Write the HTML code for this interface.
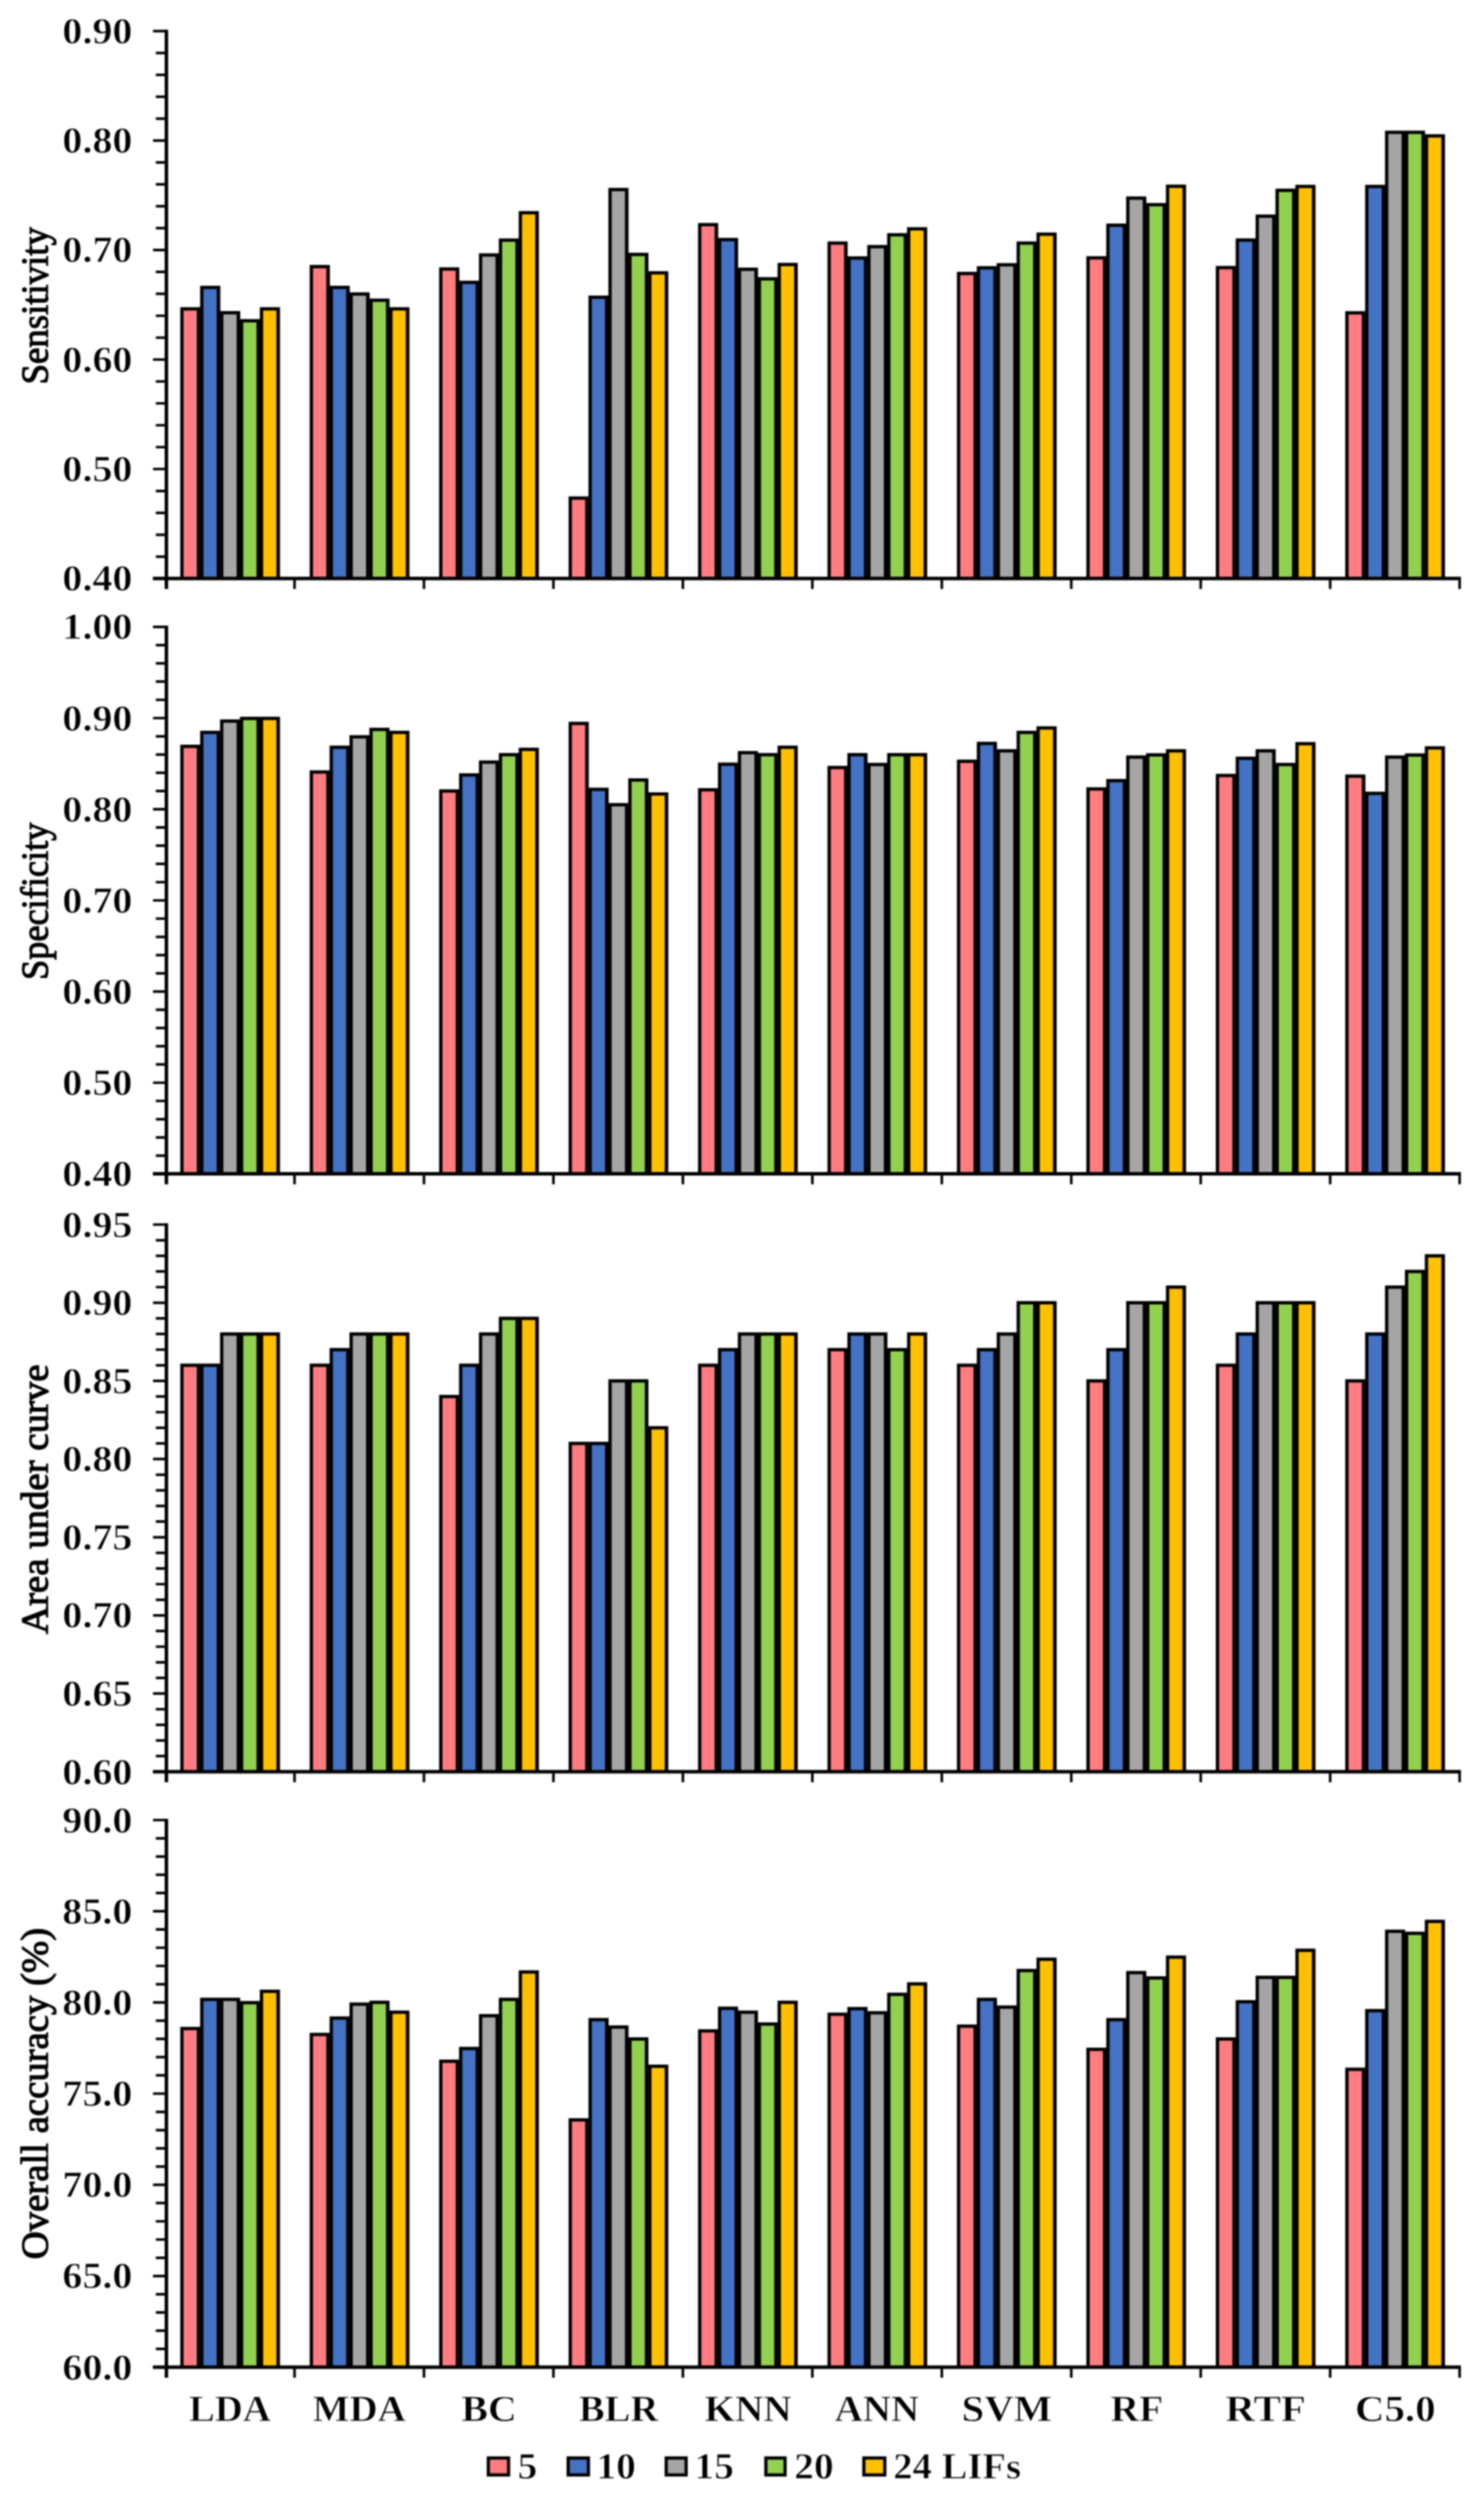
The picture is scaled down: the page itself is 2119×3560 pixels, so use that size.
<!DOCTYPE html>
<html lang="en">
<head>
<meta charset="utf-8">
<title>Classifier performance by number of LIFs</title>
<style>
html,body{margin:0;padding:0;background:#fff}
svg{display:block;filter:blur(0.8px)}
text{font-family:"Liberation Serif","Times New Roman",serif;fill:#000}
.b{font-weight:bold;stroke:#fff;stroke-width:0.9px}
.t{stroke:#000;stroke-width:1.5px;paint-order:stroke}
.ax{stroke:#000;stroke-width:5;fill:none}
.tk{stroke:#000;stroke-width:3.7;fill:none}
</style>
</head>
<body>
<svg width="2119" height="3560" viewBox="0 0 2119 3560">
<rect x="0" y="0" width="2119" height="3560" fill="#fff"/>
<g id="chart1">
<g class="bars">
<rect x="257.40" y="438.50" width="28.80" height="387.30"/><rect x="262.15" y="443.25" width="18.90" height="382.55" fill="#FF7C80"/>
<rect x="285.80" y="407.90" width="28.80" height="417.90"/><rect x="290.55" y="412.65" width="18.90" height="413.15" fill="#4472C4"/>
<rect x="314.20" y="444.00" width="28.80" height="381.80"/><rect x="318.95" y="448.75" width="18.90" height="377.05" fill="#A5A5A5"/>
<rect x="342.60" y="455.50" width="28.80" height="370.30"/><rect x="347.35" y="460.25" width="18.90" height="365.55" fill="#92D050"/>
<rect x="371.00" y="438.50" width="28.80" height="387.30"/><rect x="375.75" y="443.25" width="18.90" height="382.55" fill="#FFC000"/>
<rect x="442.23" y="378.20" width="28.80" height="447.60"/><rect x="446.98" y="382.95" width="18.90" height="442.85" fill="#FF7C80"/>
<rect x="470.63" y="407.90" width="28.80" height="417.90"/><rect x="475.38" y="412.65" width="18.90" height="413.15" fill="#4472C4"/>
<rect x="499.03" y="417.30" width="28.80" height="408.50"/><rect x="503.78" y="422.05" width="18.90" height="403.75" fill="#A5A5A5"/>
<rect x="527.43" y="426.20" width="28.80" height="399.60"/><rect x="532.18" y="430.95" width="18.90" height="394.85" fill="#92D050"/>
<rect x="555.83" y="438.50" width="28.80" height="387.30"/><rect x="560.58" y="443.25" width="18.90" height="382.55" fill="#FFC000"/>
<rect x="627.06" y="381.60" width="28.80" height="444.20"/><rect x="631.81" y="386.35" width="18.90" height="439.45" fill="#FF7C80"/>
<rect x="655.46" y="400.70" width="28.80" height="425.10"/><rect x="660.21" y="405.45" width="18.90" height="420.35" fill="#4472C4"/>
<rect x="683.86" y="361.60" width="28.80" height="464.20"/><rect x="688.61" y="366.35" width="18.90" height="459.45" fill="#A5A5A5"/>
<rect x="712.26" y="340.40" width="28.80" height="485.40"/><rect x="717.01" y="345.15" width="18.90" height="480.65" fill="#92D050"/>
<rect x="740.66" y="301.30" width="28.80" height="524.50"/><rect x="745.41" y="306.05" width="18.90" height="519.75" fill="#FFC000"/>
<rect x="811.89" y="708.60" width="28.80" height="117.20"/><rect x="816.64" y="713.35" width="18.90" height="112.45" fill="#FF7C80"/>
<rect x="840.29" y="421.90" width="28.80" height="403.90"/><rect x="845.04" y="426.65" width="18.90" height="399.15" fill="#4472C4"/>
<rect x="868.69" y="268.20" width="28.80" height="557.60"/><rect x="873.44" y="272.95" width="18.90" height="552.85" fill="#A5A5A5"/>
<rect x="897.09" y="360.80" width="28.80" height="465.00"/><rect x="901.84" y="365.55" width="18.90" height="460.25" fill="#92D050"/>
<rect x="925.49" y="387.10" width="28.80" height="438.70"/><rect x="930.24" y="391.85" width="18.90" height="433.95" fill="#FFC000"/>
<rect x="996.72" y="318.30" width="28.80" height="507.50"/><rect x="1001.47" y="323.05" width="18.90" height="502.75" fill="#FF7C80"/>
<rect x="1025.12" y="339.60" width="28.80" height="486.20"/><rect x="1029.87" y="344.35" width="18.90" height="481.45" fill="#4472C4"/>
<rect x="1053.52" y="382.00" width="28.80" height="443.80"/><rect x="1058.27" y="386.75" width="18.90" height="439.05" fill="#A5A5A5"/>
<rect x="1081.92" y="395.60" width="28.80" height="430.20"/><rect x="1086.67" y="400.35" width="18.90" height="425.45" fill="#92D050"/>
<rect x="1110.32" y="375.20" width="28.80" height="450.60"/><rect x="1115.07" y="379.95" width="18.90" height="445.85" fill="#FFC000"/>
<rect x="1181.55" y="344.60" width="28.80" height="481.20"/><rect x="1186.30" y="349.35" width="18.90" height="476.45" fill="#FF7C80"/>
<rect x="1209.95" y="365.90" width="28.80" height="459.90"/><rect x="1214.70" y="370.65" width="18.90" height="455.15" fill="#4472C4"/>
<rect x="1238.35" y="349.70" width="28.80" height="476.10"/><rect x="1243.10" y="354.45" width="18.90" height="471.35" fill="#A5A5A5"/>
<rect x="1266.75" y="332.80" width="28.80" height="493.00"/><rect x="1271.50" y="337.55" width="18.90" height="488.25" fill="#92D050"/>
<rect x="1295.15" y="324.30" width="28.80" height="501.50"/><rect x="1299.90" y="329.05" width="18.90" height="496.75" fill="#FFC000"/>
<rect x="1366.38" y="388.00" width="28.80" height="437.80"/><rect x="1371.13" y="392.75" width="18.90" height="433.05" fill="#FF7C80"/>
<rect x="1394.78" y="379.90" width="28.80" height="445.90"/><rect x="1399.53" y="384.65" width="18.90" height="441.15" fill="#4472C4"/>
<rect x="1423.18" y="375.60" width="28.80" height="450.20"/><rect x="1427.93" y="380.35" width="18.90" height="445.45" fill="#A5A5A5"/>
<rect x="1451.58" y="344.60" width="28.80" height="481.20"/><rect x="1456.33" y="349.35" width="18.90" height="476.45" fill="#92D050"/>
<rect x="1479.98" y="331.90" width="28.80" height="493.90"/><rect x="1484.73" y="336.65" width="18.90" height="489.15" fill="#FFC000"/>
<rect x="1551.21" y="365.70" width="28.80" height="460.10"/><rect x="1555.96" y="370.45" width="18.90" height="455.35" fill="#FF7C80"/>
<rect x="1579.61" y="319.10" width="28.80" height="506.70"/><rect x="1584.36" y="323.85" width="18.90" height="501.95" fill="#4472C4"/>
<rect x="1608.01" y="280.40" width="28.80" height="545.40"/><rect x="1612.76" y="285.15" width="18.90" height="540.65" fill="#A5A5A5"/>
<rect x="1636.41" y="289.80" width="28.80" height="536.00"/><rect x="1641.16" y="294.55" width="18.90" height="531.25" fill="#92D050"/>
<rect x="1664.81" y="263.50" width="28.80" height="562.30"/><rect x="1669.56" y="268.25" width="18.90" height="557.55" fill="#FFC000"/>
<rect x="1736.04" y="379.60" width="28.80" height="446.20"/><rect x="1740.79" y="384.35" width="18.90" height="441.45" fill="#FF7C80"/>
<rect x="1764.44" y="340.30" width="28.80" height="485.50"/><rect x="1769.19" y="345.05" width="18.90" height="480.75" fill="#4472C4"/>
<rect x="1792.84" y="306.20" width="28.80" height="519.60"/><rect x="1797.59" y="310.95" width="18.90" height="514.85" fill="#A5A5A5"/>
<rect x="1821.24" y="269.30" width="28.80" height="556.50"/><rect x="1825.99" y="274.05" width="18.90" height="551.75" fill="#92D050"/>
<rect x="1849.64" y="263.80" width="28.80" height="562.00"/><rect x="1854.39" y="268.55" width="18.90" height="557.25" fill="#FFC000"/>
<rect x="1920.87" y="444.20" width="28.80" height="381.60"/><rect x="1925.62" y="448.95" width="18.90" height="376.85" fill="#FF7C80"/>
<rect x="1949.27" y="263.80" width="28.80" height="562.00"/><rect x="1954.02" y="268.55" width="18.90" height="557.25" fill="#4472C4"/>
<rect x="1977.67" y="186.50" width="28.80" height="639.30"/><rect x="1982.42" y="191.25" width="18.90" height="634.55" fill="#A5A5A5"/>
<rect x="2006.07" y="186.50" width="28.80" height="639.30"/><rect x="2010.82" y="191.25" width="18.90" height="634.55" fill="#92D050"/>
<rect x="2034.47" y="191.60" width="28.80" height="634.20"/><rect x="2039.22" y="196.35" width="18.90" height="629.45" fill="#FFC000"/>
</g>
<path class="tk" d="M218.5 44.40H237.60M218.5 200.68H237.60M218.5 356.96H237.60M218.5 513.24H237.60M218.5 669.52H237.60M218.5 825.80H237.60"/>
<path class="tk" d="M222.5 75.66H237.60M222.5 106.91H237.60M222.5 138.17H237.60M222.5 169.42H237.60M222.5 231.94H237.60M222.5 263.19H237.60M222.5 294.45H237.60M222.5 325.70H237.60M222.5 388.22H237.60M222.5 419.47H237.60M222.5 450.73H237.60M222.5 481.98H237.60M222.5 544.50H237.60M222.5 575.75H237.60M222.5 607.01H237.60M222.5 638.26H237.60M222.5 700.78H237.60M222.5 732.03H237.60M222.5 763.29H237.60M222.5 794.54H237.60"/>
<path class="tk" d="M420.55 825.80V840.80M605.40 825.80V840.80M790.25 825.80V840.80M975.10 825.80V840.80M1159.95 825.80V840.80M1344.80 825.80V840.80M1529.65 825.80V840.80M1714.50 825.80V840.80M1899.35 825.80V840.80M2084.20 825.80V840.80"/>
<path class="ax" d="M237.60 42.55V840.80"/>
<path class="ax" d="M218.5 825.80H2086.05"/>
<text class="b" font-size="52" text-anchor="end" transform="translate(189.00 61.90) scale(1.098 1)">0.90</text>
<text class="b" font-size="52" text-anchor="end" transform="translate(189.00 218.18) scale(1.098 1)">0.80</text>
<text class="b" font-size="52" text-anchor="end" transform="translate(189.00 374.46) scale(1.098 1)">0.70</text>
<text class="b" font-size="52" text-anchor="end" transform="translate(189.00 530.74) scale(1.098 1)">0.60</text>
<text class="b" font-size="52" text-anchor="end" transform="translate(189.00 687.02) scale(1.098 1)">0.50</text>
<text class="b" font-size="52" text-anchor="end" transform="translate(189.00 843.30) scale(1.098 1)">0.40</text>
<text class="t" font-size="54" text-anchor="middle" transform="translate(68.30 436.50) rotate(-90) scale(0.972 1)">Sensitivity</text>
</g>
<g id="chart2">
<g class="bars">
<rect x="257.40" y="1063.00" width="28.80" height="612.60"/><rect x="262.15" y="1067.75" width="18.90" height="607.85" fill="#FF7C80"/>
<rect x="285.80" y="1043.10" width="28.80" height="632.50"/><rect x="290.55" y="1047.85" width="18.90" height="627.75" fill="#4472C4"/>
<rect x="314.20" y="1026.90" width="28.80" height="648.70"/><rect x="318.95" y="1031.65" width="18.90" height="643.95" fill="#A5A5A5"/>
<rect x="342.60" y="1023.10" width="28.80" height="652.50"/><rect x="347.35" y="1027.85" width="18.90" height="647.75" fill="#92D050"/>
<rect x="371.00" y="1023.10" width="28.80" height="652.50"/><rect x="375.75" y="1027.85" width="18.90" height="647.75" fill="#FFC000"/>
<rect x="442.23" y="1099.60" width="28.80" height="576.00"/><rect x="446.98" y="1104.35" width="18.90" height="571.25" fill="#FF7C80"/>
<rect x="470.63" y="1064.30" width="28.80" height="611.30"/><rect x="475.38" y="1069.05" width="18.90" height="606.55" fill="#4472C4"/>
<rect x="499.03" y="1049.40" width="28.80" height="626.20"/><rect x="503.78" y="1054.15" width="18.90" height="621.45" fill="#A5A5A5"/>
<rect x="527.43" y="1038.80" width="28.80" height="636.80"/><rect x="532.18" y="1043.55" width="18.90" height="632.05" fill="#92D050"/>
<rect x="555.83" y="1043.10" width="28.80" height="632.50"/><rect x="560.58" y="1047.85" width="18.90" height="627.75" fill="#FFC000"/>
<rect x="627.06" y="1126.70" width="28.80" height="548.90"/><rect x="631.81" y="1131.45" width="18.90" height="544.15" fill="#FF7C80"/>
<rect x="655.46" y="1103.80" width="28.80" height="571.80"/><rect x="660.21" y="1108.55" width="18.90" height="567.05" fill="#4472C4"/>
<rect x="683.86" y="1085.50" width="28.80" height="590.10"/><rect x="688.61" y="1090.25" width="18.90" height="585.35" fill="#A5A5A5"/>
<rect x="712.26" y="1074.90" width="28.80" height="600.70"/><rect x="717.01" y="1079.65" width="18.90" height="595.95" fill="#92D050"/>
<rect x="740.66" y="1067.30" width="28.80" height="608.30"/><rect x="745.41" y="1072.05" width="18.90" height="603.55" fill="#FFC000"/>
<rect x="811.89" y="1030.30" width="28.80" height="645.30"/><rect x="816.64" y="1035.05" width="18.90" height="640.55" fill="#FF7C80"/>
<rect x="840.29" y="1124.40" width="28.80" height="551.20"/><rect x="845.04" y="1129.15" width="18.90" height="546.45" fill="#4472C4"/>
<rect x="868.69" y="1146.30" width="28.80" height="529.30"/><rect x="873.44" y="1151.05" width="18.90" height="524.55" fill="#A5A5A5"/>
<rect x="897.09" y="1111.00" width="28.80" height="564.60"/><rect x="901.84" y="1115.75" width="18.90" height="559.85" fill="#92D050"/>
<rect x="925.49" y="1131.00" width="28.80" height="544.60"/><rect x="930.24" y="1135.75" width="18.90" height="539.85" fill="#FFC000"/>
<rect x="996.72" y="1125.00" width="28.80" height="550.60"/><rect x="1001.47" y="1129.75" width="18.90" height="545.85" fill="#FF7C80"/>
<rect x="1025.12" y="1088.50" width="28.80" height="587.10"/><rect x="1029.87" y="1093.25" width="18.90" height="582.35" fill="#4472C4"/>
<rect x="1053.52" y="1072.00" width="28.80" height="603.60"/><rect x="1058.27" y="1076.75" width="18.90" height="598.85" fill="#A5A5A5"/>
<rect x="1081.92" y="1074.90" width="28.80" height="600.70"/><rect x="1086.67" y="1079.65" width="18.90" height="595.95" fill="#92D050"/>
<rect x="1110.32" y="1064.30" width="28.80" height="611.30"/><rect x="1115.07" y="1069.05" width="18.90" height="606.55" fill="#FFC000"/>
<rect x="1181.55" y="1093.20" width="28.80" height="582.40"/><rect x="1186.30" y="1097.95" width="18.90" height="577.65" fill="#FF7C80"/>
<rect x="1209.95" y="1074.90" width="28.80" height="600.70"/><rect x="1214.70" y="1079.65" width="18.90" height="595.95" fill="#4472C4"/>
<rect x="1238.35" y="1088.90" width="28.80" height="586.70"/><rect x="1243.10" y="1093.65" width="18.90" height="581.95" fill="#A5A5A5"/>
<rect x="1266.75" y="1074.90" width="28.80" height="600.70"/><rect x="1271.50" y="1079.65" width="18.90" height="595.95" fill="#92D050"/>
<rect x="1295.15" y="1074.90" width="28.80" height="600.70"/><rect x="1299.90" y="1079.65" width="18.90" height="595.95" fill="#FFC000"/>
<rect x="1366.38" y="1084.30" width="28.80" height="591.30"/><rect x="1371.13" y="1089.05" width="18.90" height="586.55" fill="#FF7C80"/>
<rect x="1394.78" y="1058.80" width="28.80" height="616.80"/><rect x="1399.53" y="1063.55" width="18.90" height="612.05" fill="#4472C4"/>
<rect x="1423.18" y="1069.40" width="28.80" height="606.20"/><rect x="1427.93" y="1074.15" width="18.90" height="601.45" fill="#A5A5A5"/>
<rect x="1451.58" y="1043.10" width="28.80" height="632.50"/><rect x="1456.33" y="1047.85" width="18.90" height="627.75" fill="#92D050"/>
<rect x="1479.98" y="1036.70" width="28.80" height="638.90"/><rect x="1484.73" y="1041.45" width="18.90" height="634.15" fill="#FFC000"/>
<rect x="1551.21" y="1123.80" width="28.80" height="551.80"/><rect x="1555.96" y="1128.55" width="18.90" height="547.05" fill="#FF7C80"/>
<rect x="1579.61" y="1111.90" width="28.80" height="563.70"/><rect x="1584.36" y="1116.65" width="18.90" height="558.95" fill="#4472C4"/>
<rect x="1608.01" y="1078.30" width="28.80" height="597.30"/><rect x="1612.76" y="1083.05" width="18.90" height="592.55" fill="#A5A5A5"/>
<rect x="1636.41" y="1075.20" width="28.80" height="600.40"/><rect x="1641.16" y="1079.95" width="18.90" height="595.65" fill="#92D050"/>
<rect x="1664.81" y="1069.40" width="28.80" height="606.20"/><rect x="1669.56" y="1074.15" width="18.90" height="601.45" fill="#FFC000"/>
<rect x="1736.04" y="1104.60" width="28.80" height="571.00"/><rect x="1740.79" y="1109.35" width="18.90" height="566.25" fill="#FF7C80"/>
<rect x="1764.44" y="1080.00" width="28.80" height="595.60"/><rect x="1769.19" y="1084.75" width="18.90" height="590.85" fill="#4472C4"/>
<rect x="1792.84" y="1069.40" width="28.80" height="606.20"/><rect x="1797.59" y="1074.15" width="18.90" height="601.45" fill="#A5A5A5"/>
<rect x="1821.24" y="1088.90" width="28.80" height="586.70"/><rect x="1825.99" y="1093.65" width="18.90" height="581.95" fill="#92D050"/>
<rect x="1849.64" y="1059.20" width="28.80" height="616.40"/><rect x="1854.39" y="1063.95" width="18.90" height="611.65" fill="#FFC000"/>
<rect x="1920.87" y="1105.50" width="28.80" height="570.10"/><rect x="1925.62" y="1110.25" width="18.90" height="565.35" fill="#FF7C80"/>
<rect x="1949.27" y="1130.10" width="28.80" height="545.50"/><rect x="1954.02" y="1134.85" width="18.90" height="540.75" fill="#4472C4"/>
<rect x="1977.67" y="1078.30" width="28.80" height="597.30"/><rect x="1982.42" y="1083.05" width="18.90" height="592.55" fill="#A5A5A5"/>
<rect x="2006.07" y="1075.40" width="28.80" height="600.20"/><rect x="2010.82" y="1080.15" width="18.90" height="595.45" fill="#92D050"/>
<rect x="2034.47" y="1065.20" width="28.80" height="610.40"/><rect x="2039.22" y="1069.95" width="18.90" height="605.65" fill="#FFC000"/>
</g>
<path class="tk" d="M218.5 894.90H237.60M218.5 1025.02H237.60M218.5 1155.13H237.60M218.5 1285.25H237.60M218.5 1415.37H237.60M218.5 1545.48H237.60M218.5 1675.60H237.60"/>
<path class="tk" d="M222.5 920.92H237.60M222.5 946.95H237.60M222.5 972.97H237.60M222.5 998.99H237.60M222.5 1051.04H237.60M222.5 1077.06H237.60M222.5 1103.09H237.60M222.5 1129.11H237.60M222.5 1181.16H237.60M222.5 1207.18H237.60M222.5 1233.20H237.60M222.5 1259.23H237.60M222.5 1311.27H237.60M222.5 1337.30H237.60M222.5 1363.32H237.60M222.5 1389.34H237.60M222.5 1441.39H237.60M222.5 1467.41H237.60M222.5 1493.44H237.60M222.5 1519.46H237.60M222.5 1571.51H237.60M222.5 1597.53H237.60M222.5 1623.55H237.60M222.5 1649.58H237.60"/>
<path class="tk" d="M420.55 1675.60V1690.60M605.40 1675.60V1690.60M790.25 1675.60V1690.60M975.10 1675.60V1690.60M1159.95 1675.60V1690.60M1344.80 1675.60V1690.60M1529.65 1675.60V1690.60M1714.50 1675.60V1690.60M1899.35 1675.60V1690.60M2084.20 1675.60V1690.60"/>
<path class="ax" d="M237.60 893.05V1690.60"/>
<path class="ax" d="M218.5 1675.60H2086.05"/>
<text class="b" font-size="52" text-anchor="end" transform="translate(189.00 912.40) scale(1.098 1)">1.00</text>
<text class="b" font-size="52" text-anchor="end" transform="translate(189.00 1042.52) scale(1.098 1)">0.90</text>
<text class="b" font-size="52" text-anchor="end" transform="translate(189.00 1172.63) scale(1.098 1)">0.80</text>
<text class="b" font-size="52" text-anchor="end" transform="translate(189.00 1302.75) scale(1.098 1)">0.70</text>
<text class="b" font-size="52" text-anchor="end" transform="translate(189.00 1432.87) scale(1.098 1)">0.60</text>
<text class="b" font-size="52" text-anchor="end" transform="translate(189.00 1562.98) scale(1.098 1)">0.50</text>
<text class="b" font-size="52" text-anchor="end" transform="translate(189.00 1693.10) scale(1.098 1)">0.40</text>
<text class="t" font-size="54" text-anchor="middle" transform="translate(68.30 1286.50) rotate(-90) scale(0.96 1)">Specificity</text>
</g>
<g id="chart3">
<g class="bars">
<rect x="257.40" y="1946.45" width="28.80" height="582.55"/><rect x="262.15" y="1951.20" width="18.90" height="577.80" fill="#FF7C80"/>
<rect x="285.80" y="1946.45" width="28.80" height="582.55"/><rect x="290.55" y="1951.20" width="18.90" height="577.80" fill="#4472C4"/>
<rect x="314.20" y="1901.82" width="28.80" height="627.18"/><rect x="318.95" y="1906.57" width="18.90" height="622.43" fill="#A5A5A5"/>
<rect x="342.60" y="1901.82" width="28.80" height="627.18"/><rect x="347.35" y="1906.57" width="18.90" height="622.43" fill="#92D050"/>
<rect x="371.00" y="1901.82" width="28.80" height="627.18"/><rect x="375.75" y="1906.57" width="18.90" height="622.43" fill="#FFC000"/>
<rect x="442.23" y="1946.45" width="28.80" height="582.55"/><rect x="446.98" y="1951.20" width="18.90" height="577.80" fill="#FF7C80"/>
<rect x="470.63" y="1924.14" width="28.80" height="604.86"/><rect x="475.38" y="1928.89" width="18.90" height="600.11" fill="#4472C4"/>
<rect x="499.03" y="1901.82" width="28.80" height="627.18"/><rect x="503.78" y="1906.57" width="18.90" height="622.43" fill="#A5A5A5"/>
<rect x="527.43" y="1901.82" width="28.80" height="627.18"/><rect x="532.18" y="1906.57" width="18.90" height="622.43" fill="#92D050"/>
<rect x="555.83" y="1901.82" width="28.80" height="627.18"/><rect x="560.58" y="1906.57" width="18.90" height="622.43" fill="#FFC000"/>
<rect x="627.06" y="1991.08" width="28.80" height="537.92"/><rect x="631.81" y="1995.83" width="18.90" height="533.17" fill="#FF7C80"/>
<rect x="655.46" y="1946.45" width="28.80" height="582.55"/><rect x="660.21" y="1951.20" width="18.90" height="577.80" fill="#4472C4"/>
<rect x="683.86" y="1901.82" width="28.80" height="627.18"/><rect x="688.61" y="1906.57" width="18.90" height="622.43" fill="#A5A5A5"/>
<rect x="712.26" y="1879.51" width="28.80" height="649.49"/><rect x="717.01" y="1884.26" width="18.90" height="644.74" fill="#92D050"/>
<rect x="740.66" y="1879.51" width="28.80" height="649.49"/><rect x="745.41" y="1884.26" width="18.90" height="644.74" fill="#FFC000"/>
<rect x="811.89" y="2058.02" width="28.80" height="470.98"/><rect x="816.64" y="2062.77" width="18.90" height="466.23" fill="#FF7C80"/>
<rect x="840.29" y="2058.02" width="28.80" height="470.98"/><rect x="845.04" y="2062.77" width="18.90" height="466.23" fill="#4472C4"/>
<rect x="868.69" y="1968.77" width="28.80" height="560.23"/><rect x="873.44" y="1973.52" width="18.90" height="555.48" fill="#A5A5A5"/>
<rect x="897.09" y="1968.77" width="28.80" height="560.23"/><rect x="901.84" y="1973.52" width="18.90" height="555.48" fill="#92D050"/>
<rect x="925.49" y="2035.71" width="28.80" height="493.29"/><rect x="930.24" y="2040.46" width="18.90" height="488.54" fill="#FFC000"/>
<rect x="996.72" y="1946.45" width="28.80" height="582.55"/><rect x="1001.47" y="1951.20" width="18.90" height="577.80" fill="#FF7C80"/>
<rect x="1025.12" y="1924.14" width="28.80" height="604.86"/><rect x="1029.87" y="1928.89" width="18.90" height="600.11" fill="#4472C4"/>
<rect x="1053.52" y="1901.82" width="28.80" height="627.18"/><rect x="1058.27" y="1906.57" width="18.90" height="622.43" fill="#A5A5A5"/>
<rect x="1081.92" y="1901.82" width="28.80" height="627.18"/><rect x="1086.67" y="1906.57" width="18.90" height="622.43" fill="#92D050"/>
<rect x="1110.32" y="1901.82" width="28.80" height="627.18"/><rect x="1115.07" y="1906.57" width="18.90" height="622.43" fill="#FFC000"/>
<rect x="1181.55" y="1924.14" width="28.80" height="604.86"/><rect x="1186.30" y="1928.89" width="18.90" height="600.11" fill="#FF7C80"/>
<rect x="1209.95" y="1901.82" width="28.80" height="627.18"/><rect x="1214.70" y="1906.57" width="18.90" height="622.43" fill="#4472C4"/>
<rect x="1238.35" y="1901.82" width="28.80" height="627.18"/><rect x="1243.10" y="1906.57" width="18.90" height="622.43" fill="#A5A5A5"/>
<rect x="1266.75" y="1924.14" width="28.80" height="604.86"/><rect x="1271.50" y="1928.89" width="18.90" height="600.11" fill="#92D050"/>
<rect x="1295.15" y="1901.82" width="28.80" height="627.18"/><rect x="1299.90" y="1906.57" width="18.90" height="622.43" fill="#FFC000"/>
<rect x="1366.38" y="1946.45" width="28.80" height="582.55"/><rect x="1371.13" y="1951.20" width="18.90" height="577.80" fill="#FF7C80"/>
<rect x="1394.78" y="1924.14" width="28.80" height="604.86"/><rect x="1399.53" y="1928.89" width="18.90" height="600.11" fill="#4472C4"/>
<rect x="1423.18" y="1901.82" width="28.80" height="627.18"/><rect x="1427.93" y="1906.57" width="18.90" height="622.43" fill="#A5A5A5"/>
<rect x="1451.58" y="1857.20" width="28.80" height="671.80"/><rect x="1456.33" y="1861.95" width="18.90" height="667.05" fill="#92D050"/>
<rect x="1479.98" y="1857.20" width="28.80" height="671.80"/><rect x="1484.73" y="1861.95" width="18.90" height="667.05" fill="#FFC000"/>
<rect x="1551.21" y="1968.77" width="28.80" height="560.23"/><rect x="1555.96" y="1973.52" width="18.90" height="555.48" fill="#FF7C80"/>
<rect x="1579.61" y="1924.14" width="28.80" height="604.86"/><rect x="1584.36" y="1928.89" width="18.90" height="600.11" fill="#4472C4"/>
<rect x="1608.01" y="1857.20" width="28.80" height="671.80"/><rect x="1612.76" y="1861.95" width="18.90" height="667.05" fill="#A5A5A5"/>
<rect x="1636.41" y="1857.20" width="28.80" height="671.80"/><rect x="1641.16" y="1861.95" width="18.90" height="667.05" fill="#92D050"/>
<rect x="1664.81" y="1834.88" width="28.80" height="694.12"/><rect x="1669.56" y="1839.63" width="18.90" height="689.37" fill="#FFC000"/>
<rect x="1736.04" y="1946.45" width="28.80" height="582.55"/><rect x="1740.79" y="1951.20" width="18.90" height="577.80" fill="#FF7C80"/>
<rect x="1764.44" y="1901.82" width="28.80" height="627.18"/><rect x="1769.19" y="1906.57" width="18.90" height="622.43" fill="#4472C4"/>
<rect x="1792.84" y="1857.20" width="28.80" height="671.80"/><rect x="1797.59" y="1861.95" width="18.90" height="667.05" fill="#A5A5A5"/>
<rect x="1821.24" y="1857.20" width="28.80" height="671.80"/><rect x="1825.99" y="1861.95" width="18.90" height="667.05" fill="#92D050"/>
<rect x="1849.64" y="1857.20" width="28.80" height="671.80"/><rect x="1854.39" y="1861.95" width="18.90" height="667.05" fill="#FFC000"/>
<rect x="1920.87" y="1968.77" width="28.80" height="560.23"/><rect x="1925.62" y="1973.52" width="18.90" height="555.48" fill="#FF7C80"/>
<rect x="1949.27" y="1901.82" width="28.80" height="627.18"/><rect x="1954.02" y="1906.57" width="18.90" height="622.43" fill="#4472C4"/>
<rect x="1977.67" y="1834.88" width="28.80" height="694.12"/><rect x="1982.42" y="1839.63" width="18.90" height="689.37" fill="#A5A5A5"/>
<rect x="2006.07" y="1812.57" width="28.80" height="716.43"/><rect x="2010.82" y="1817.32" width="18.90" height="711.68" fill="#92D050"/>
<rect x="2034.47" y="1790.25" width="28.80" height="738.75"/><rect x="2039.22" y="1795.00" width="18.90" height="734.00" fill="#FFC000"/>
</g>
<path class="tk" d="M218.5 1748.00H237.60M218.5 1859.57H237.60M218.5 1971.14H237.60M218.5 2082.71H237.60M218.5 2194.29H237.60M218.5 2305.86H237.60M218.5 2417.43H237.60M218.5 2529.00H237.60"/>
<path class="tk" d="M222.5 1770.31H237.60M222.5 1792.63H237.60M222.5 1814.94H237.60M222.5 1837.26H237.60M222.5 1881.89H237.60M222.5 1904.20H237.60M222.5 1926.51H237.60M222.5 1948.83H237.60M222.5 1993.46H237.60M222.5 2015.77H237.60M222.5 2038.09H237.60M222.5 2060.40H237.60M222.5 2105.03H237.60M222.5 2127.34H237.60M222.5 2149.66H237.60M222.5 2171.97H237.60M222.5 2216.60H237.60M222.5 2238.91H237.60M222.5 2261.23H237.60M222.5 2283.54H237.60M222.5 2328.17H237.60M222.5 2350.49H237.60M222.5 2372.80H237.60M222.5 2395.11H237.60M222.5 2439.74H237.60M222.5 2462.06H237.60M222.5 2484.37H237.60M222.5 2506.69H237.60"/>
<path class="tk" d="M420.55 2529.00V2544.00M605.40 2529.00V2544.00M790.25 2529.00V2544.00M975.10 2529.00V2544.00M1159.95 2529.00V2544.00M1344.80 2529.00V2544.00M1529.65 2529.00V2544.00M1714.50 2529.00V2544.00M1899.35 2529.00V2544.00M2084.20 2529.00V2544.00"/>
<path class="ax" d="M237.60 1746.15V2544.00"/>
<path class="ax" d="M218.5 2529.00H2086.05"/>
<text class="b" font-size="52" text-anchor="end" transform="translate(189.00 1765.50) scale(1.098 1)">0.95</text>
<text class="b" font-size="52" text-anchor="end" transform="translate(189.00 1877.07) scale(1.098 1)">0.90</text>
<text class="b" font-size="52" text-anchor="end" transform="translate(189.00 1988.64) scale(1.098 1)">0.85</text>
<text class="b" font-size="52" text-anchor="end" transform="translate(189.00 2100.21) scale(1.098 1)">0.80</text>
<text class="b" font-size="52" text-anchor="end" transform="translate(189.00 2211.79) scale(1.098 1)">0.75</text>
<text class="b" font-size="52" text-anchor="end" transform="translate(189.00 2323.36) scale(1.098 1)">0.70</text>
<text class="b" font-size="52" text-anchor="end" transform="translate(189.00 2434.93) scale(1.098 1)">0.65</text>
<text class="b" font-size="52" text-anchor="end" transform="translate(189.00 2546.50) scale(1.098 1)">0.60</text>
<text class="t" font-size="54" text-anchor="middle" transform="translate(68.30 2140.00) rotate(-90) scale(1.027 1)">Area under curve</text>
</g>
<g id="chart4">
<g class="bars">
<rect x="257.40" y="2893.20" width="28.80" height="485.80"/><rect x="262.15" y="2897.95" width="18.90" height="481.05" fill="#FF7C80"/>
<rect x="285.80" y="2851.60" width="28.80" height="527.40"/><rect x="290.55" y="2856.35" width="18.90" height="522.65" fill="#4472C4"/>
<rect x="314.20" y="2851.60" width="28.80" height="527.40"/><rect x="318.95" y="2856.35" width="18.90" height="522.65" fill="#A5A5A5"/>
<rect x="342.60" y="2856.30" width="28.80" height="522.70"/><rect x="347.35" y="2861.05" width="18.90" height="517.95" fill="#92D050"/>
<rect x="371.00" y="2840.10" width="28.80" height="538.90"/><rect x="375.75" y="2844.85" width="18.90" height="534.15" fill="#FFC000"/>
<rect x="442.23" y="2901.70" width="28.80" height="477.30"/><rect x="446.98" y="2906.45" width="18.90" height="472.55" fill="#FF7C80"/>
<rect x="470.63" y="2878.30" width="28.80" height="500.70"/><rect x="475.38" y="2883.05" width="18.90" height="495.95" fill="#4472C4"/>
<rect x="499.03" y="2858.40" width="28.80" height="520.60"/><rect x="503.78" y="2863.15" width="18.90" height="515.85" fill="#A5A5A5"/>
<rect x="527.43" y="2855.80" width="28.80" height="523.20"/><rect x="532.18" y="2860.55" width="18.90" height="518.45" fill="#92D050"/>
<rect x="555.83" y="2869.90" width="28.80" height="509.10"/><rect x="560.58" y="2874.65" width="18.90" height="504.35" fill="#FFC000"/>
<rect x="627.06" y="2939.90" width="28.80" height="439.10"/><rect x="631.81" y="2944.65" width="18.90" height="434.35" fill="#FF7C80"/>
<rect x="655.46" y="2921.70" width="28.80" height="457.30"/><rect x="660.21" y="2926.45" width="18.90" height="452.55" fill="#4472C4"/>
<rect x="683.86" y="2874.90" width="28.80" height="504.10"/><rect x="688.61" y="2879.65" width="18.90" height="499.35" fill="#A5A5A5"/>
<rect x="712.26" y="2851.60" width="28.80" height="527.40"/><rect x="717.01" y="2856.35" width="18.90" height="522.65" fill="#92D050"/>
<rect x="740.66" y="2812.50" width="28.80" height="566.50"/><rect x="745.41" y="2817.25" width="18.90" height="561.75" fill="#FFC000"/>
<rect x="811.89" y="3023.60" width="28.80" height="355.40"/><rect x="816.64" y="3028.35" width="18.90" height="350.65" fill="#FF7C80"/>
<rect x="840.29" y="2880.50" width="28.80" height="498.50"/><rect x="845.04" y="2885.25" width="18.90" height="493.75" fill="#4472C4"/>
<rect x="868.69" y="2891.10" width="28.80" height="487.90"/><rect x="873.44" y="2895.85" width="18.90" height="483.15" fill="#A5A5A5"/>
<rect x="897.09" y="2908.10" width="28.80" height="470.90"/><rect x="901.84" y="2912.85" width="18.90" height="466.15" fill="#92D050"/>
<rect x="925.49" y="2947.10" width="28.80" height="431.90"/><rect x="930.24" y="2951.85" width="18.90" height="427.15" fill="#FFC000"/>
<rect x="996.72" y="2896.60" width="28.80" height="482.40"/><rect x="1001.47" y="2901.35" width="18.90" height="477.65" fill="#FF7C80"/>
<rect x="1025.12" y="2864.30" width="28.80" height="514.70"/><rect x="1029.87" y="2869.05" width="18.90" height="509.95" fill="#4472C4"/>
<rect x="1053.52" y="2869.90" width="28.80" height="509.10"/><rect x="1058.27" y="2874.65" width="18.90" height="504.35" fill="#A5A5A5"/>
<rect x="1081.92" y="2886.80" width="28.80" height="492.20"/><rect x="1086.67" y="2891.55" width="18.90" height="487.45" fill="#92D050"/>
<rect x="1110.32" y="2855.80" width="28.80" height="523.20"/><rect x="1115.07" y="2860.55" width="18.90" height="518.45" fill="#FFC000"/>
<rect x="1181.55" y="2872.80" width="28.80" height="506.20"/><rect x="1186.30" y="2877.55" width="18.90" height="501.45" fill="#FF7C80"/>
<rect x="1209.95" y="2864.80" width="28.80" height="514.20"/><rect x="1214.70" y="2869.55" width="18.90" height="509.45" fill="#4472C4"/>
<rect x="1238.35" y="2870.70" width="28.80" height="508.30"/><rect x="1243.10" y="2875.45" width="18.90" height="503.55" fill="#A5A5A5"/>
<rect x="1266.75" y="2844.40" width="28.80" height="534.60"/><rect x="1271.50" y="2849.15" width="18.90" height="529.85" fill="#92D050"/>
<rect x="1295.15" y="2829.50" width="28.80" height="549.50"/><rect x="1299.90" y="2834.25" width="18.90" height="544.75" fill="#FFC000"/>
<rect x="1366.38" y="2889.80" width="28.80" height="489.20"/><rect x="1371.13" y="2894.55" width="18.90" height="484.45" fill="#FF7C80"/>
<rect x="1394.78" y="2851.60" width="28.80" height="527.40"/><rect x="1399.53" y="2856.35" width="18.90" height="522.65" fill="#4472C4"/>
<rect x="1423.18" y="2862.60" width="28.80" height="516.40"/><rect x="1427.93" y="2867.35" width="18.90" height="511.65" fill="#A5A5A5"/>
<rect x="1451.58" y="2810.40" width="28.80" height="568.60"/><rect x="1456.33" y="2815.15" width="18.90" height="563.85" fill="#92D050"/>
<rect x="1479.98" y="2794.30" width="28.80" height="584.70"/><rect x="1484.73" y="2799.05" width="18.90" height="579.95" fill="#FFC000"/>
<rect x="1551.21" y="2922.90" width="28.80" height="456.10"/><rect x="1555.96" y="2927.65" width="18.90" height="451.35" fill="#FF7C80"/>
<rect x="1579.61" y="2880.50" width="28.80" height="498.50"/><rect x="1584.36" y="2885.25" width="18.90" height="493.75" fill="#4472C4"/>
<rect x="1608.01" y="2813.40" width="28.80" height="565.60"/><rect x="1612.76" y="2818.15" width="18.90" height="560.85" fill="#A5A5A5"/>
<rect x="1636.41" y="2821.00" width="28.80" height="558.00"/><rect x="1641.16" y="2825.75" width="18.90" height="553.25" fill="#92D050"/>
<rect x="1664.81" y="2791.30" width="28.80" height="587.70"/><rect x="1669.56" y="2796.05" width="18.90" height="582.95" fill="#FFC000"/>
<rect x="1736.04" y="2908.10" width="28.80" height="470.90"/><rect x="1740.79" y="2912.85" width="18.90" height="466.15" fill="#FF7C80"/>
<rect x="1764.44" y="2855.00" width="28.80" height="524.00"/><rect x="1769.19" y="2859.75" width="18.90" height="519.25" fill="#4472C4"/>
<rect x="1792.84" y="2820.20" width="28.80" height="558.80"/><rect x="1797.59" y="2824.95" width="18.90" height="554.05" fill="#A5A5A5"/>
<rect x="1821.24" y="2820.20" width="28.80" height="558.80"/><rect x="1825.99" y="2824.95" width="18.90" height="554.05" fill="#92D050"/>
<rect x="1849.64" y="2781.50" width="28.80" height="597.50"/><rect x="1854.39" y="2786.25" width="18.90" height="592.75" fill="#FFC000"/>
<rect x="1920.87" y="2951.40" width="28.80" height="427.60"/><rect x="1925.62" y="2956.15" width="18.90" height="422.85" fill="#FF7C80"/>
<rect x="1949.27" y="2867.70" width="28.80" height="511.30"/><rect x="1954.02" y="2872.45" width="18.90" height="506.55" fill="#4472C4"/>
<rect x="1977.67" y="2754.40" width="28.80" height="624.60"/><rect x="1982.42" y="2759.15" width="18.90" height="619.85" fill="#A5A5A5"/>
<rect x="2006.07" y="2757.30" width="28.80" height="621.70"/><rect x="2010.82" y="2762.05" width="18.90" height="616.95" fill="#92D050"/>
<rect x="2034.47" y="2740.30" width="28.80" height="638.70"/><rect x="2039.22" y="2745.05" width="18.90" height="633.95" fill="#FFC000"/>
</g>
<path class="tk" d="M218.5 2598.00H237.60M218.5 2728.17H237.60M218.5 2858.33H237.60M218.5 2988.50H237.60M218.5 3118.67H237.60M218.5 3248.83H237.60M218.5 3379.00H237.60"/>
<path class="tk" d="M222.5 2624.03H237.60M222.5 2650.07H237.60M222.5 2676.10H237.60M222.5 2702.13H237.60M222.5 2754.20H237.60M222.5 2780.23H237.60M222.5 2806.27H237.60M222.5 2832.30H237.60M222.5 2884.37H237.60M222.5 2910.40H237.60M222.5 2936.43H237.60M222.5 2962.47H237.60M222.5 3014.53H237.60M222.5 3040.57H237.60M222.5 3066.60H237.60M222.5 3092.63H237.60M222.5 3144.70H237.60M222.5 3170.73H237.60M222.5 3196.77H237.60M222.5 3222.80H237.60M222.5 3274.87H237.60M222.5 3300.90H237.60M222.5 3326.93H237.60M222.5 3352.97H237.60"/>
<path class="tk" d="M420.55 3379.00V3394.00M605.40 3379.00V3394.00M790.25 3379.00V3394.00M975.10 3379.00V3394.00M1159.95 3379.00V3394.00M1344.80 3379.00V3394.00M1529.65 3379.00V3394.00M1714.50 3379.00V3394.00M1899.35 3379.00V3394.00M2084.20 3379.00V3394.00"/>
<path class="ax" d="M237.60 2596.15V3394.00"/>
<path class="ax" d="M218.5 3379.00H2086.05"/>
<text class="b" font-size="52" text-anchor="end" transform="translate(189.00 2615.50) scale(1.098 1)">90.0</text>
<text class="b" font-size="52" text-anchor="end" transform="translate(189.00 2745.67) scale(1.098 1)">85.0</text>
<text class="b" font-size="52" text-anchor="end" transform="translate(189.00 2875.83) scale(1.098 1)">80.0</text>
<text class="b" font-size="52" text-anchor="end" transform="translate(189.00 3006.00) scale(1.098 1)">75.0</text>
<text class="b" font-size="52" text-anchor="end" transform="translate(189.00 3136.17) scale(1.098 1)">70.0</text>
<text class="b" font-size="52" text-anchor="end" transform="translate(189.00 3266.33) scale(1.098 1)">65.0</text>
<text class="b" font-size="52" text-anchor="end" transform="translate(189.00 3396.50) scale(1.098 1)">60.0</text>
<text class="t" font-size="54" text-anchor="middle" transform="translate(68.30 2988.40) rotate(-90) scale(1.025 1)">Overall accuracy (%)</text>
</g>
<g id="categories">
<text class="b" font-size="52" text-anchor="middle" transform="translate(328.20 3455.50) scale(1.065 1)">LDA</text>
<text class="b" font-size="52" text-anchor="middle" transform="translate(513.00 3455.50) scale(1.07116 1)">MDA</text>
<text class="b" font-size="52" text-anchor="middle" transform="translate(698.40 3455.50) scale(1.09684 1)">BC</text>
<text class="b" font-size="52" text-anchor="middle" transform="translate(883.30 3455.50) scale(1.06294 1)">BLR</text>
<text class="b" font-size="52" text-anchor="middle" transform="translate(1068.20 3455.50) scale(1.07732 1)">KNN</text>
<text class="b" font-size="52" text-anchor="middle" transform="translate(1252.10 3455.50) scale(1.07321 1)">ANN</text>
<text class="b" font-size="52" text-anchor="middle" transform="translate(1437.70 3455.50) scale(1.1184 1)">SVM</text>
<text class="b" font-size="52" text-anchor="middle" transform="translate(1623.30 3455.50) scale(1.08451 1)">RF</text>
<text class="b" font-size="52" text-anchor="middle" transform="translate(1807.30 3455.50) scale(1.12559 1)">RTF</text>
<text class="b" font-size="52" text-anchor="middle" transform="translate(1992.30 3455.50) scale(1.12354 1)">C5.0</text>
</g>
<g id="legend">
<rect x="697.30" y="3508.60" width="28.90" height="24.20" fill="#FF7C80" stroke="#000" stroke-width="4.6"/>
<text class="b" font-size="52" transform="translate(739.00 3538.00) scale(1.085 1)">5</text>
<rect x="811.30" y="3508.60" width="28.90" height="24.20" fill="#4472C4" stroke="#000" stroke-width="4.6"/>
<text class="b" font-size="52" transform="translate(851.50 3538.00) scale(1.085 1)">10</text>
<rect x="951.30" y="3508.60" width="28.40" height="24.20" fill="#A5A5A5" stroke="#000" stroke-width="4.6"/>
<text class="b" font-size="52" transform="translate(991.60 3538.00) scale(1.085 1)">15</text>
<rect x="1093.60" y="3508.60" width="27.40" height="24.20" fill="#92D050" stroke="#000" stroke-width="4.6"/>
<text class="b" font-size="52" transform="translate(1134.00 3538.00) scale(1.085 1)">20</text>
<rect x="1233.50" y="3508.60" width="29.90" height="24.20" fill="#FFC000" stroke="#000" stroke-width="4.6"/>
<text class="b" font-size="52" transform="translate(1275.50 3538.00) scale(1.062 1)">24 LIFs</text>
</g>
</svg>
</body>
</html>
